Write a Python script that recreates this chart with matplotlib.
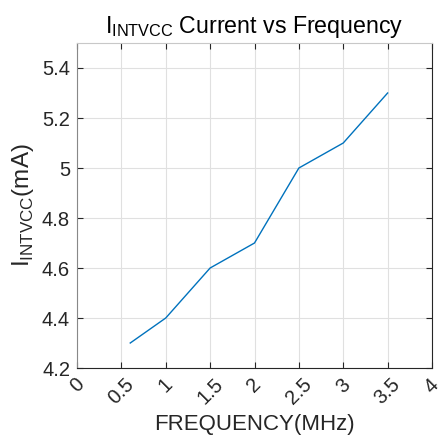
import matplotlib
matplotlib.use('Agg')
import matplotlib.pyplot as plt

plt.rcParams['font.family'] = ['Liberation Sans', 'DejaVu Sans']
plt.rcParams['mathtext.fontset'] = 'custom'
plt.rcParams['mathtext.rm'] = 'Liberation Sans'

# data
freq = [0.6, 1.0, 1.5, 2.0, 2.5, 3.0, 3.5]
current = [4.3, 4.4, 4.6, 4.7, 5.0, 5.1, 5.3]
xticks = [0, 0.5, 1, 1.5, 2, 2.5, 3, 3.5, 4]
xticklabels = ['0', '0.5', '1', '1.5', '2', '2.5', '3', '3.5', '4']
yticks = [4.2, 4.4, 4.6, 4.8, 5.0, 5.2, 5.4]
yticklabels = ['4.2', '4.4', '4.6', '4.8', '5', '5.2', '5.4']

fig = plt.figure(figsize=(4.44, 4.44), dpi=100)
ax = fig.add_axes([77 / 444, 1 - 368 / 444, 355 / 444, 325 / 444])

ax.plot(freq, current, color='#0072BD', lw=1.0)

ax.set_xlim(0, 4)
ax.set_ylim(4.2, 5.5)
ax.set_xticks(xticks)
ax.set_xticklabels(xticklabels, rotation=45, ha='center', va='top')
ax.set_yticks(yticks)
ax.set_yticklabels(yticklabels)
ax.grid(True, color='#e0e0e0', lw=0.8)
ax.set_axisbelow(True)

ax.tick_params(direction='in', length=4, width=0.8, colors='#262626',
               labelsize=14.5, top=True, right=True, pad=5)
for side in ['left', 'bottom', 'right']:
    ax.spines[side].set_color('#262626')
    ax.spines[side].set_linewidth(0.8)
ax.spines['top'].set_color('#c8c8c8')
ax.spines['left'].set_color('#888888')

ax.set_xlabel('FREQUENCY(MHz)', fontsize=16, color='#262626', labelpad=4)
ax.set_ylabel(r'I$_{\mathrm{INTVCC}}$(mA)', fontsize=17.5, color='#262626', labelpad=4)
ax.set_title(r'I$_{\mathrm{INTVCC}}$ Current vs Frequency', fontsize=16.7, pad=7)

fig.savefig('out.png', dpi=100)
